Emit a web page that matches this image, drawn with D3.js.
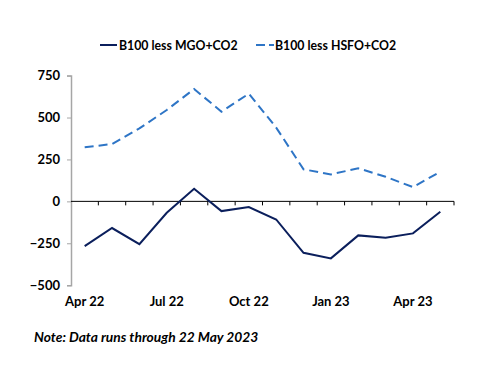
<!DOCTYPE html>
<html><head><meta charset="utf-8">
<script src="https://cdn.jsdelivr.net/npm/d3@7"></script>
<style>body{margin:0;background:#fff}svg{display:block}text{font-family:Lato,sans-serif}</style>
</head><body><svg id="c" width="500" height="386"></svg>
<script>
const months = ["Apr 22","May 22","Jun 22","Jul 22","Aug 22","Sep 22","Oct 22","Nov 22","Dec 22","Jan 23","Feb 23","Mar 23","Apr 23","May 23"];
const mgo = [-267,-159,-255,-68,75,-58,-34,-108,-307,-340,-203,-217,-191,-62];
const hsfo = [322,342,435,545,670,535,642,440,191,161,197,147,85,177];
const yTicks = [750,500,250,0,-250,-500];
const xLabels = ["Apr 22","Jul 22","Oct 22","Jan 23","Apr 23"];
const seriesNames = ["B100 less MGO+CO2","B100 less HSFO+CO2"];

const svg = d3.select("#c");
const x = d3.scaleBand().domain(months).range([71,454]);
const y = d3.scaleLinear().domain([-500,750]).range([285.2,75.6]);

const ya = svg.append("g").attr("transform","translate(71,0)")
  .call(d3.axisLeft(y).tickValues(yTicks).tickSize(4).tickPadding(7).tickFormat(d3.format("d")));
ya.select(".domain").attr("stroke","#a6a6a6").attr("stroke-width",1.5);
ya.selectAll(".tick line").attr("stroke","#a6a6a6");
ya.selectAll("text").attr("font-size","13px").attr("font-weight","bold").attr("fill","#000").attr("font-family","Lato");

const y0 = y(0);
svg.append("line").attr("x1",71).attr("x2",454).attr("y1",y0).attr("y2",y0).attr("stroke","#000").attr("stroke-width",1);
const bounds = months.map(m=>x(m)+x.bandwidth());
svg.append("g").selectAll("line").data(bounds).join("line")
  .attr("x1",d=>d).attr("x2",d=>d).attr("y1",y0).attr("y2",y0+4).attr("stroke","#000");

svg.append("g").selectAll("text").data(xLabels).join("text")
  .attr("x",d=>x(d)+x.bandwidth()/2).attr("y",306).attr("text-anchor","middle")
  .attr("font-size","13px").attr("font-weight","bold").text(d=>d);

const line = d3.line().x((d,i)=>x(months[i])+x.bandwidth()/2).y(d=>y(d));
svg.append("path").datum(hsfo).attr("d",line).attr("fill","none").attr("stroke","#2E75C6").attr("stroke-width",2).attr("stroke-dasharray","9,5");
svg.append("path").datum(mgo).attr("d",line).attr("fill","none").attr("stroke","#0B1F5C").attr("stroke-width",2);

const lg = svg.append("g");
lg.append("line").attr("x1",100).attr("x2",117).attr("y1",45).attr("y2",45).attr("stroke","#0B1F5C").attr("stroke-width",2);
lg.append("text").attr("x",119).attr("y",50).attr("font-size","12.3px").attr("font-weight","bold").text(seriesNames[0]);
lg.append("line").attr("x1",256).attr("x2",274).attr("y1",45).attr("y2",45).attr("stroke","#2E75C6").attr("stroke-width",2).attr("stroke-dasharray","9,4");
lg.append("text").attr("x",275).attr("y",50).attr("font-size","12.3px").attr("font-weight","bold").text(seriesNames[1]);

svg.append("text").attr("x",34).attr("y",342).attr("font-size","13.8px").attr("font-weight","bold").attr("font-style","italic").text("Note: Data runs through 22 May 2023");
</script></body></html>
